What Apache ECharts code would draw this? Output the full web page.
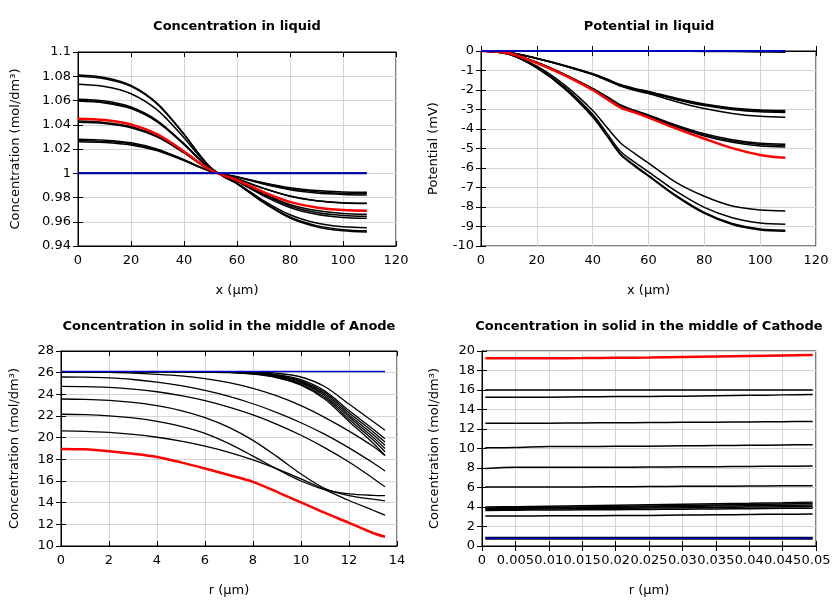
<!DOCTYPE html>
<html>
<head>
<meta charset="utf-8">
<script src="https://cdn.jsdelivr.net/npm/echarts@6/dist/echarts.min.js"></script>
<style>html,body{margin:0;padding:0;background:#fff}#c{width:840px;height:600px}</style>
</head>
<body>
<div id="c"></div>
<script>
// ---------- Panel 1: Concentration in liquid ----------
const liqX = [0, 10, 20, 30, 40, 45, 50, 55, 60, 70, 80, 90, 100, 109];
const liqConcA = [1.081, 1.079, 1.0725, 1.0575, 1.0324, 1.0178, 1.0049, 0.9971, 0.9913, 0.9758, 0.9631, 0.9559, 0.9525, 0.9515];
const liqConcB = [1.080, 1.078, 1.0716, 1.0568, 1.032, 1.0176, 1.0048, 0.9972, 0.9915, 0.9763, 0.9639, 0.9568, 0.9535, 0.9525];
const liqConcC = [1.0733, 1.0715, 1.0656, 1.052, 1.0293, 1.0161, 1.0044, 0.9973, 0.9919, 0.9775, 0.9658, 0.959, 0.9559, 0.955];
const liqConcD = [1.061, 1.0595, 1.0546, 1.0433, 1.0244, 1.0134, 1.0037, 0.9978, 0.9933, 0.9814, 0.9717, 0.9661, 0.9635, 0.9628];
const liqConcE = [1.060, 1.0585, 1.0537, 1.0426, 1.024, 1.0132, 1.0036, 0.9979, 0.9936, 0.9823, 0.973, 0.9677, 0.9652, 0.9645];
const liqConcF = [1.0595, 1.058, 1.0533, 1.0422, 1.0238, 1.0131, 1.0036, 0.998, 0.9939, 0.9831, 0.9742, 0.9692, 0.9668, 0.9661];
const liqConcG = [1.043, 1.0419, 1.0385, 1.0305, 1.0172, 1.0095, 1.0026, 0.9985, 0.9955, 0.9876, 0.9812, 0.9774, 0.9757, 0.9752];
const liqConcH = [1.042, 1.041, 1.0376, 1.0298, 1.0168, 1.0092, 1.0025, 0.9985, 0.9955, 0.9875, 0.981, 0.9773, 0.9755, 0.975];
const liqConcI = [1.028, 1.0273, 1.0251, 1.0199, 1.0112, 1.0062, 1.0017, 0.9989, 0.9968, 0.9911, 0.9864, 0.9837, 0.9825, 0.9821];
const liqConcJ = [1.027, 1.0263, 1.0242, 1.0192, 1.0108, 1.0059, 1.0016, 0.999, 0.997, 0.9916, 0.9872, 0.9847, 0.9835, 0.9832];
const liqConcK = [1.026, 1.0254, 1.0233, 1.0185, 1.0104, 1.0057, 1.0016, 0.9991, 0.9972, 0.9922, 0.9881, 0.9857, 0.9846, 0.9843];
const liqConcFlat = [1.0003, 1.0003, 1.0003, 1.0003, 1.0003, 1.0003, 1.0003, 1.0003, 1.0003, 1.0003, 1.0002, 1.0002, 1.0002, 1.0002];
const liqConcRed = [1.045, 1.0439, 1.0403, 1.032, 1.018, 1.0099, 1.0027, 0.9981, 0.9944, 0.9845, 0.9764, 0.9718, 0.9696, 0.969];
const liqConcBlue = [1, 1, 1, 1, 1, 1, 1, 1, 1, 1, 1, 1, 1, 1];

// ---------- Panel 2: Potential in liquid ----------
const potX = [0, 10, 20, 30, 40, 45, 50, 55, 60, 70, 80, 90, 100, 109];
const potG1a = [0, -0.08, -0.37, -0.74, -1.16, -1.43, -1.72, -1.92, -2.07, -2.42, -2.72, -2.92, -3.02, -3.05];
const potG1b = [0, -0.08, -0.38, -0.75, -1.18, -1.45, -1.75, -1.95, -2.1, -2.46, -2.76, -2.96, -3.07, -3.1];
const potG1c = [0, -0.08, -0.39, -0.77, -1.2, -1.48, -1.78, -1.98, -2.13, -2.5, -2.8, -3.0, -3.12, -3.15];
const potG1d = [0, -0.08, -0.39, -0.77, -1.21, -1.5, -1.8, -2.02, -2.18, -2.6, -2.95, -3.2, -3.35, -3.4];
const potG2a = [0, -0.12, -0.58, -1.2, -1.92, -2.33, -2.77, -3.04, -3.28, -3.8, -4.24, -4.55, -4.73, -4.78];
const potG2b = [0, -0.12, -0.59, -1.21, -1.94, -2.35, -2.8, -3.07, -3.32, -3.85, -4.3, -4.62, -4.8, -4.85];
const potG2c = [0, -0.12, -0.6, -1.22, -1.95, -2.37, -2.82, -3.1, -3.35, -3.9, -4.36, -4.68, -4.87, -4.92];
const potG3a = [0, -0.15, -0.78, -1.75, -3.05, -3.9, -4.72, -5.25, -5.75, -6.75, -7.45, -7.95, -8.15, -8.2];
const potG3b = [0, -0.16, -0.82, -1.85, -3.25, -4.2, -5.15, -5.7, -6.2, -7.2, -8.02, -8.55, -8.82, -8.88];
const potG3c = [0, -0.17, -0.86, -1.92, -3.35, -4.3, -5.28, -5.85, -6.38, -7.42, -8.28, -8.85, -9.13, -9.19];
const potG3d = [0, -0.17, -0.87, -1.94, -3.38, -4.34, -5.32, -5.9, -6.42, -7.47, -8.33, -8.9, -9.18, -9.24];
const potFlat = [0, 0, 0, 0, 0, 0, 0, 0, -0.01, -0.01, -0.02, -0.03, -0.05, -0.06];
const potRed = [0, -0.12, -0.62, -1.25, -2.0, -2.45, -2.9, -3.15, -3.42, -3.98, -4.5, -4.98, -5.33, -5.48];
const potBlue = [0, 0, 0, 0, 0, 0, 0, 0, 0, 0, 0, 0, 0, 0];

// ---------- Panel 3: Concentration in solid, middle of Anode ----------
const anR = [0, 1, 2, 3, 4, 5, 6, 7, 8, 9, 10, 11, 12, 13, 13.5];
const anB1 = [26.1, 26.1, 26.1, 26.1, 26.1, 26.1, 26.1, 26.1, 26.08, 25.95, 25.6, 24.7, 23.1, 21.5, 20.68];
const anB2 = [26.1, 26.1, 26.1, 26.1, 26.1, 26.1, 26.1, 26.09, 26.02, 25.82, 25.35, 24.3, 22.5, 20.8, 19.9];
const anB3 = [26.1, 26.1, 26.1, 26.1, 26.1, 26.1, 26.1, 26.08, 26.0, 25.77, 25.25, 24.15, 22.3, 20.55, 19.6];
const anB4 = [26.1, 26.1, 26.1, 26.1, 26.1, 26.1, 26.09, 26.06, 25.97, 25.72, 25.15, 24.0, 22.1, 20.3, 19.3];
const anB5 = [26.1, 26.1, 26.1, 26.1, 26.1, 26.1, 26.08, 26.05, 25.94, 25.66, 25.05, 23.85, 21.9, 20.05, 19.0];
const anB6 = [26.1, 26.1, 26.1, 26.1, 26.1, 26.09, 26.07, 26.03, 25.9, 25.6, 24.95, 23.7, 21.7, 19.8, 18.7];
const anB7 = [26.1, 26.1, 26.1, 26.1, 26.1, 26.09, 26.06, 26.0, 25.86, 25.53, 24.85, 23.55, 21.5, 19.5, 18.35];
const anL0 = [26.06, 26.05, 26.02, 25.96, 25.85, 25.7, 25.45, 25.08, 24.55, 23.85, 22.95, 21.85, 20.6, 19.2, 18.35];
const anL1 = [25.6, 25.58, 25.51, 25.37, 25.13, 24.8, 24.36, 23.81, 23.13, 22.32, 21.38, 20.3, 19.06, 17.68, 16.93];
const anL2 = [24.74, 24.72, 24.65, 24.49, 24.24, 23.88, 23.42, 22.82, 22.1, 21.23, 20.22, 19.06, 17.75, 16.26, 15.46];
const anL3 = [23.57, 23.54, 23.44, 23.25, 22.95, 22.5, 21.85, 20.95, 19.75, 18.25, 16.65, 15.3, 14.65, 14.32, 14.17];
const anL4 = [22.16, 22.13, 22.02, 21.82, 21.5, 21.05, 20.4, 19.45, 18.3, 17.1, 16.0, 15.2, 14.82, 14.67, 14.65];
const anL5 = [20.62, 20.59, 20.48, 20.3, 20.04, 19.68, 19.22, 18.65, 17.95, 17.12, 16.2, 15.2, 14.2, 13.3, 12.85];
const anRed = [18.96, 18.92, 18.75, 18.52, 18.22, 17.72, 17.15, 16.55, 15.92, 15.0, 14.02, 13.05, 12.14, 11.2, 10.85];
const anBlue = [26.1, 26.1, 26.1, 26.1, 26.1, 26.1, 26.1, 26.1, 26.1, 26.1, 26.1, 26.1, 26.1, 26.1, 26.1];

// ---------- Panel 4: Concentration in solid, middle of Cathode ----------
const caR = [0.0005, 0.005, 0.01, 0.015, 0.02, 0.025, 0.03, 0.035, 0.04, 0.045, 0.0495];
const caRed = [19.25, 19.25, 19.26, 19.27, 19.3, 19.33, 19.38, 19.43, 19.48, 19.53, 19.58];
const ca16 = [16.0, 16.0, 16.0, 16.0, 16.0, 16.0, 16.0, 16.0, 16.0, 16.0, 16.0];
const ca15 = [15.25, 15.25, 15.26, 15.3, 15.33, 15.34, 15.37, 15.41, 15.45, 15.5, 15.55];
const ca12 = [12.6, 12.6, 12.6, 12.62, 12.64, 12.66, 12.68, 12.7, 12.72, 12.75, 12.78];
const ca10 = [10.08, 10.1, 10.2, 10.2, 10.22, 10.24, 10.27, 10.3, 10.33, 10.36, 10.39];
const ca8 = [7.95, 8.07, 8.07, 8.08, 8.08, 8.1, 8.12, 8.14, 8.16, 8.18, 8.2];
const ca6 = [6.05, 6.05, 6.05, 6.06, 6.07, 6.09, 6.12, 6.13, 6.15, 6.17, 6.18];
const caB1 = [3.65, 3.67, 3.69, 3.71, 3.73, 3.75, 3.78, 3.8, 3.83, 3.86, 3.88];
const caB2 = [3.75, 3.77, 3.8, 3.83, 3.86, 3.89, 3.92, 3.95, 3.99, 4.02, 4.05];
const caB3 = [3.82, 3.85, 3.89, 3.93, 3.97, 4.01, 4.05, 4.09, 4.13, 4.17, 4.2];
const caB4 = [3.9, 3.93, 3.97, 4.01, 4.06, 4.1, 4.15, 4.2, 4.25, 4.3, 4.35];
const caB5 = [4.0, 4.03, 4.07, 4.12, 4.17, 4.22, 4.27, 4.33, 4.38, 4.44, 4.5];
const ca3 = [3.08, 3.08, 3.09, 3.1, 3.12, 3.14, 3.17, 3.2, 3.23, 3.26, 3.28];
const caBlack08 = [0.8, 0.8, 0.8, 0.8, 0.8, 0.8, 0.8, 0.8, 0.8, 0.8, 0.8];
const caBlue = [0.8, 0.8, 0.8, 0.8, 0.8, 0.8, 0.8, 0.8, 0.8, 0.8, 0.8];

// ---------- Axis tick settings ----------
const ticksLiqX = { min: 0, max: 120, interval: 20 };
const ticksLiqConc = { min: 0.94, max: 1.1, interval: 0.02 };
const ticksPot = { min: -10, max: 0, interval: 1 };
const ticksAnR = { min: 0, max: 14, interval: 2 };
const ticksAnC = { min: 10, max: 28, interval: 2 };
const ticksCaR = { min: 0, max: 0.05, interval: 0.005 };
const ticksCaC = { min: 0, max: 20, interval: 2 };

const FONT = 'DejaVu Sans';
const BLACK = '#000000';
const RED = '#ff0000';
const BLUE = '#0000b8';

const grids = [
  { left: 78, top: 52, width: 318, height: 194 },
  { left: 481, top: 51, width: 335, height: 195 },
  { left: 61, top: 351, width: 336, height: 195 },
  { left: 482, top: 351, width: 334, height: 195 }
];
grids.forEach(g => { g.show = true; g.borderColor = '#000'; g.borderWidth = 1; g.backgroundColor = 'transparent'; g.containLabel = false; });

function mainX(idx, t, name) {
  return {
    type: 'value', gridIndex: idx, position: 'bottom', min: t.min, max: t.max, interval: t.interval,
    name: name, nameLocation: 'middle', nameGap: 38,
    nameTextStyle: { fontFamily: FONT, fontSize: 13, color: '#000' },
    axisLine: { show: true, lineStyle: { color: '#000', width: 1 } },
    axisTick: { show: true, inside: true, length: 5, lineStyle: { color: '#000' } },
    axisLabel: { fontFamily: FONT, fontSize: 13, color: '#000', margin: 8 },
    splitLine: { show: true, lineStyle: { color: '#d4d4d4', width: 1 } }
  };
}
function mirrorX(idx, t) {
  return {
    type: 'value', gridIndex: idx, position: 'top', min: t.min, max: t.max, interval: t.interval,
    axisLine: { show: true, lineStyle: { color: '#000' } },
    axisTick: { show: true, inside: true, length: 5, lineStyle: { color: '#000' } },
    axisLabel: { show: false }, splitLine: { show: false }
  };
}
function mainY(idx, t, name, gap) {
  return {
    type: 'value', gridIndex: idx, position: 'left', min: t.min, max: t.max, interval: t.interval,
    name: name, nameLocation: 'middle', nameGap: gap, nameRotate: 90,
    nameTextStyle: { fontFamily: FONT, fontSize: 13, color: '#000' },
    axisLine: { show: true, lineStyle: { color: '#000', width: 1 } },
    axisTick: { show: true, inside: true, length: 5, lineStyle: { color: '#000' } },
    axisLabel: { fontFamily: FONT, fontSize: 13, color: '#000', margin: 7 },
    splitLine: { show: true, lineStyle: { color: '#d4d4d4', width: 1 } }
  };
}
function mirrorY(idx, t) {
  return {
    type: 'value', gridIndex: idx, position: 'right', min: t.min, max: t.max, interval: t.interval,
    axisLine: { show: true, lineStyle: { color: '#000' } },
    axisTick: { show: true, inside: true, length: 5, lineStyle: { color: '#000' } },
    axisLabel: { show: false }, splitLine: { show: false }
  };
}

const xAxes = [
  mainX(0, ticksLiqX, 'x (μm)'), mainX(1, ticksLiqX, 'x (μm)'),
  mainX(2, ticksAnR, 'r (μm)'), mainX(3, ticksCaR, 'r (μm)'),
  mirrorX(0, ticksLiqX), mirrorX(1, ticksLiqX), mirrorX(2, ticksAnR), mirrorX(3, ticksCaR)
];
const yAxes = [
  mainY(0, ticksLiqConc, 'Concentration (mol/dm³)', 56),
  mainY(1, ticksPot, 'Potential (mV)', 41),
  mainY(2, ticksAnC, 'Concentration (mol/dm³)', 40),
  mainY(3, ticksCaC, 'Concentration (mol/dm³)', 41),
  mirrorY(0, ticksLiqConc), mirrorY(1, ticksPot), mirrorY(2, ticksAnC), mirrorY(3, ticksCaC)
];

function line(axis, xs, ys, color, width, z) {
  return {
    type: 'line', xAxisIndex: axis, yAxisIndex: axis,
    data: xs.map((x, i) => [x, ys[i]]),
    smooth: 0.3, symbol: 'none', silent: true,
    lineStyle: { color: color, width: width }, z: z || 2, animation: false
  };
}

const series = [];
[liqConcFlat, liqConcA, liqConcB, liqConcC, liqConcD, liqConcE, liqConcF, liqConcG, liqConcH, liqConcI, liqConcJ, liqConcK]
  .forEach(s => series.push(line(0, liqX, s, BLACK, 1.5)));
series.push(line(0, liqX, liqConcRed, RED, 2.5, 3));
series.push(line(0, liqX, liqConcBlue, BLUE, 2, 4));

[potFlat, potG1a, potG1b, potG1c, potG1d, potG2a, potG2b, potG2c, potG3a, potG3b, potG3c, potG3d]
  .forEach(s => series.push(line(1, potX, s, BLACK, 1.5)));
series.push(line(1, potX, potRed, RED, 2.5, 3));
series.push(line(1, potX, potBlue, BLUE, 2, 4));

[anB1, anB2, anB3, anB4, anB5, anB6, anB7, anL0, anL1, anL2, anL3, anL4, anL5]
  .forEach(s => series.push(line(2, anR, s, BLACK, 1.3)));
series.push(line(2, anR, anRed, RED, 2.5, 3));
series.push(line(2, anR, anBlue, BLUE, 1.5, 4));

[ca16, ca15, ca12, ca10, ca8, ca6, caB1, caB2, caB3, caB4, caB5, ca3]
  .forEach(s => series.push(line(3, caR, s, BLACK, 1.5)));
series.push(line(3, caR, caBlack08, BLACK, 3));
series.push(line(3, caR, caRed, RED, 2.5, 3));
series.push(line(3, caR, caBlue, BLUE, 1.5, 4));

const titleStyle = { fontFamily: FONT, fontSize: 13, fontWeight: 'bold', color: '#000' };
const chart = echarts.init(document.getElementById('c'), null, { renderer: 'canvas' });
chart.setOption({
  animation: false,
  backgroundColor: '#fff',
  title: [
    { text: 'Concentration in liquid', left: 237, top: 20, textAlign: 'center', padding: 0, textStyle: titleStyle },
    { text: 'Potential in liquid', left: 649, top: 20, textAlign: 'center', padding: 0, textStyle: titleStyle },
    { text: 'Concentration in solid in the middle of Anode', left: 229, top: 320, textAlign: 'center', padding: 0, textStyle: titleStyle },
    { text: 'Concentration in solid in the middle of Cathode', left: 649, top: 320, textAlign: 'center', padding: 0, textStyle: titleStyle }
  ],
  grid: grids,
  xAxis: xAxes,
  yAxis: yAxes,
  series: series
});
</script>
</body>
</html>
